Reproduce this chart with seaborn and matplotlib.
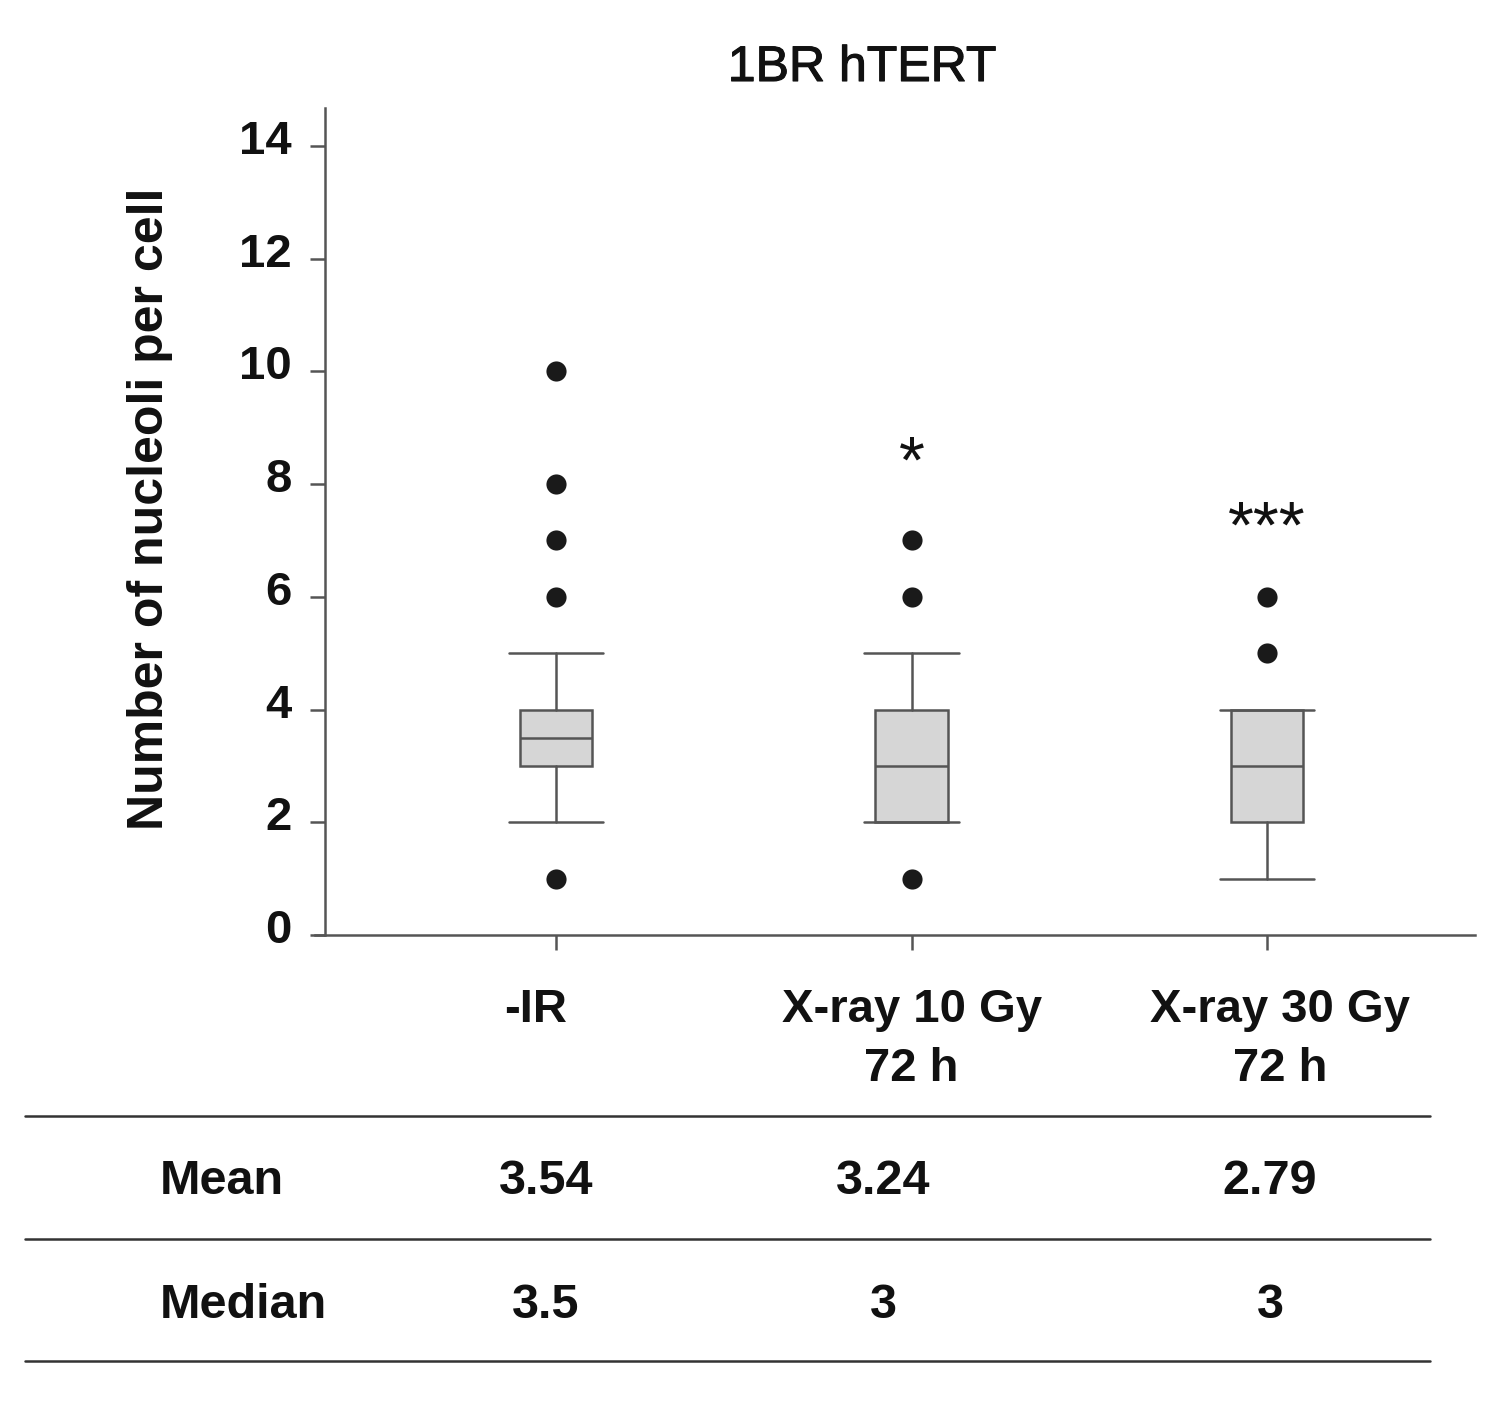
import matplotlib.pyplot as plt
import matplotlib.patheffects as pe
import numpy as np
import pandas as pd
import seaborn as sns
from matplotlib.lines import Line2D
from matplotlib.transforms import ScaledTranslation

# values
groups = ["-IR", "X-ray 10 Gy\n72 h", "X-ray 30 Gy\n72 h"]
q1 = [3, 2, 2]
medians = [3.5, 3, 3]
q3 = [4, 4, 4]
whisker_low = [2, 2, 1]
whisker_high = [5, 5, 4]
outliers = [[1, 6, 7, 8, 10], [1, 6, 7], [5, 6]]
means = [3.54, 3.24, 2.79]
stars = ["", "*", "***"]
star_y = [0, 8.02, 6.87]
yticks = [0, 2, 4, 6, 8, 10, 12, 14]

sns.set_theme(style="ticks")
plt.rcParams["font.family"] = ["Liberation Sans", "DejaVu Sans"]

W, H = 1506, 1401
fig = plt.figure(figsize=(W / 100, H / 100), dpi=100)
ax = fig.add_axes([315 / W, 1 - 935 / H, 1160 / W, 827 / H])

edge = "#555555"
ink = "#111111"
lw = 1.8

# outlier dots
fl = pd.DataFrame(
    [(g, v) for g, vals in zip(groups, outliers) for v in vals],
    columns=["group", "value"],
)
sns.stripplot(data=fl, x="group", y="value", order=groups, jitter=False,
              color="#1a1a1a", size=14.5, linewidth=0, ax=ax, zorder=3)

stats = [
    dict(label=g, q1=a, med=m, q3=b, whislo=lo, whishi=hi, fliers=[])
    for g, a, m, b, lo, hi in zip(groups, q1, medians, q3, whisker_low, whisker_high)
]
ax.bxp(stats, positions=range(len(groups)), widths=0.205, capwidths=0.267,
       patch_artist=True, showfliers=False, manage_ticks=False,
       boxprops=dict(facecolor="#d6d6d6", edgecolor=edge, linewidth=lw),
       whiskerprops=dict(color=edge, linewidth=lw),
       capprops=dict(color=edge, linewidth=lw),
       medianprops=dict(color=edge, linewidth=lw))

for i, (s, y) in enumerate(zip(stars, star_y)):
    if s:
        ax.text(i, y, s, ha="center", va="baseline", fontsize=48, color=ink)

ax.set_xlim(-0.678, 2.585)
ax.set_ylim(0, 14.67)
ax.set_yticks(yticks)
ax.set_xlabel("")
ax.set_ylabel("Number of nucleoli per cell", fontsize=36, fontweight="bold",
              color=ink)
ax.yaxis.set_label_coords(-0.122, 0.515)

for side in ["top", "right"]:
    ax.spines[side].set_visible(False)
for side in ["left", "bottom"]:
    ax.spines[side].set_color(edge)
    ax.spines[side].set_linewidth(lw)
ax.spines["left"].set_position(("axes", 10 / 1160))

ax.tick_params(axis="both", direction="out", length=11, width=lw, color=edge,
               labelcolor=ink)
ax.tick_params(axis="x", pad=27)
ax.tick_params(axis="y", pad=13)
for lab in ax.get_yticklabels():
    lab.set_fontweight("bold")
    lab.set_fontsize(34)
    lab.set_transform(lab.get_transform() + ScaledTranslation(0, 0.09, fig.dpi_scale_trans))
for lab, dx in zip(ax.get_xticklabels(), [-20, 0, 13]):
    lab.set_fontweight("bold")
    lab.set_fontsize(34)
    lab.set_linespacing(1.46)
    lab.set_transform(lab.get_transform() + ScaledTranslation(dx / 100, 0, fig.dpi_scale_trans))

fig.text(862 / W, 1 - 68 / H, "1BR hTERT", ha="center", va="center",
         fontsize=36, color=ink,
         path_effects=[pe.withStroke(linewidth=0.8, foreground=ink)])

# summary table under the plot
for y in [1116, 1239, 1361]:
    fig.add_artist(Line2D([25 / W, 1430 / W], [1 - y / H, 1 - y / H],
                          color="#333333", linewidth=lw))
col_x = [546, 883, 1270]
rows = [("Mean", [f"{m:.2f}" for m in means], 1181),
        ("Median", [f"{m:g}" for m in medians], 1306)]
for name, vals, y in rows:
    fig.text(160 / W, 1 - y / H, name, ha="left", va="center", fontsize=35,
             fontweight="bold", color=ink)
    for x, v in zip(col_x, vals):
        fig.text(x / W, 1 - y / H, v, ha="center", va="center", fontsize=35,
                 fontweight="bold", color=ink)

fig.savefig("out.png", dpi=100)
